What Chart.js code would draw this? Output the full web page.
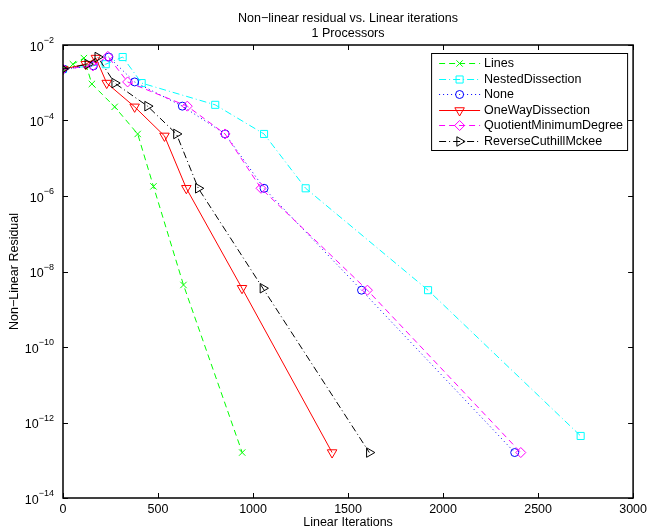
<!DOCTYPE html>
<html>
<head>
<meta charset="utf-8">
<title>Non-linear residual vs. Linear iterations</title>
<script src="https://cdn.jsdelivr.net/npm/chart.js@4/dist/chart.umd.min.js"></script>
<style>
  html, body { margin: 0; padding: 0; background: #fff; }
  canvas { display: block; }
</style>
</head>
<body>
<canvas id="residual-chart" width="651" height="529"></canvas>
<script>
// 시리즈 데이터 (선형 반복 횟수, 비선형 잔차)
const seriesNames = ['Lines', 'NestedDissection', 'None', 'OneWayDissection', 'QuotientMinimumDegree', 'ReverseCuthillMckee'];

const linesIters = [0, 52, 110, 152, 272, 393, 476, 634, 943];
const linesResid = [2.3e-3, 3.1e-3, 4.5e-3, 9.3e-4, 2.3e-4, 4.4e-5, 1.8e-6, 4.4e-9, 1.6e-13];

const nestedIters = [0, 225, 314, 414, 801, 1058, 1277, 1921, 2724];
const nestedResid = [2.3e-3, 3.1e-3, 4.8e-3, 9.8e-4, 2.6e-4, 4.4e-5, 1.6e-6, 3.2e-9, 4.4e-13];

const noneIters = [0, 160, 241, 377, 628, 853, 1058, 1571, 2377];
const noneResid = [2.3e-3, 2.8e-3, 4.8e-3, 1.05e-3, 2.4e-4, 4.4e-5, 1.6e-6, 3.2e-9, 1.6e-13];

const oneWayIters = [0, 120, 173, 230, 377, 534, 649, 942, 1416];
const oneWayResid = [2.3e-3, 3.1e-3, 4.5e-3, 9.8e-4, 2.3e-4, 3.9e-5, 1.6e-6, 3.6e-9, 1.6e-13];

const qmdIters = [0, 157, 236, 340, 654, 853, 1042, 1602, 2409];
const qmdResid = [2.3e-3, 2.8e-3, 5.0e-3, 1.05e-3, 2.4e-4, 4.4e-5, 1.6e-6, 3.2e-9, 1.6e-13];

const rcmIters = [0, 131, 183, 272, 445, 597, 712, 1052, 1612];
const rcmResid = [2.3e-3, 3.1e-3, 4.8e-3, 9.8e-4, 2.4e-4, 4.4e-5, 1.6e-6, 3.6e-9, 1.6e-13];

// 축 눈금
const xTickStep = 500;
const yTickValues = [1e-14, 1e-12, 1e-10, 1e-8, 1e-6, 1e-4, 1e-2];
const yTickBase = '10';
const yTickExponents = ['−14', '−12', '−10', '−8', '−6', '−4', '−2'];

const FONT = "'Liberation Sans', Arial, Helvetica, sans-serif";
const FONT_SIZE = 12.5;
const SUP_SIZE = 9;

Chart.defaults.font.family = FONT;
Chart.defaults.font.size = FONT_SIZE;
Chart.defaults.color = '#000';

function toPoints(xs, ys) {
  return xs.map((x, i) => ({ x: x, y: ys[i] }));
}

// MATLAB 스타일: 선 종류 + 빈 마커
function makeDataset(label, xs, ys, color, dash, pointStyle, radius, rotation) {
  return {
    label: label,
    data: toPoints(xs, ys),
    borderColor: color,
    borderWidth: 1,
    borderDash: dash,
    pointStyle: pointStyle,
    pointRadius: radius,
    pointRotation: rotation || 0,
    pointBorderColor: color,
    pointBackgroundColor: 'rgba(0,0,0,0)',
    pointBorderWidth: 1,
    tension: 0,
    fill: false
  };
}

const datasets = [
  makeDataset(seriesNames[0], linesIters, linesResid, '#00ff00', [6, 4], 'crossRot', 4.5),
  makeDataset(seriesNames[1], nestedIters, nestedResid, '#00ffff', [7, 3, 1, 3], 'rect', 5),
  makeDataset(seriesNames[2], noneIters, noneResid, '#0000ff', [1, 3], 'circle', 4),
  makeDataset(seriesNames[3], oneWayIters, oneWayResid, '#ff0000', [], 'triangle', 5.5, 180),
  makeDataset(seriesNames[4], qmdIters, qmdResid, '#ff00ff', [6, 4], 'rectRot', 5),
  makeDataset(seriesNames[5], rcmIters, rcmResid, '#000000', [7, 3, 1, 3], 'triangle', 5.5, 90)
];
// 나중 시리즈가 위에 그려지도록
datasets.forEach((d, i) => { d.order = datasets.length - i; });

// 상자 테두리 + 안쪽 눈금 (4면)
const boxTicks = {
  id: 'boxTicks',
  afterDatasetsDraw(chart) {
    const { ctx, chartArea: a, scales } = chart;
    const len = 5;
    ctx.save();
    ctx.strokeStyle = '#000';
    ctx.lineWidth = 1;
    ctx.beginPath();
    scales.x.ticks.forEach(t => {
      const px = Math.round(scales.x.getPixelForValue(t.value)) + 0.5;
      ctx.moveTo(px, a.bottom); ctx.lineTo(px, a.bottom - len);
      ctx.moveTo(px, a.top); ctx.lineTo(px, a.top + len);
    });
    scales.y.ticks.forEach(t => {
      const py = Math.round(scales.y.getPixelForValue(t.value)) + 0.5;
      ctx.moveTo(a.left, py); ctx.lineTo(a.left + len, py);
      ctx.moveTo(a.right, py); ctx.lineTo(a.right - len, py);
    });
    ctx.stroke();
    ctx.lineWidth = 1.5;
    ctx.strokeRect(a.left, a.top, a.right - a.left, a.bottom - a.top);
    ctx.restore();
  }
};

// y축 라벨: 10 + 위첨자 지수
const powerLabels = {
  id: 'powerLabels',
  afterDraw(chart) {
    const { ctx, chartArea: a, scales } = chart;
    const rightEdge = a.left - 9;
    ctx.save();
    ctx.fillStyle = '#000';
    ctx.textBaseline = 'alphabetic';
    ctx.textAlign = 'left';
    scales.y.ticks.forEach((t, i) => {
      const py = scales.y.getPixelForValue(t.value);
      const exp = yTickExponents[i];
      ctx.font = SUP_SIZE + 'px ' + FONT;
      const expW = ctx.measureText(exp).width;
      ctx.font = FONT_SIZE + 'px ' + FONT;
      const baseW = ctx.measureText(yTickBase).width;
      const x0 = rightEdge - expW - baseW;
      ctx.fillText(yTickBase, x0, py + 5.5);
      ctx.font = SUP_SIZE + 'px ' + FONT;
      ctx.fillText(exp, x0 + baseW, py - 2);
    });
    ctx.restore();
  }
};

// 범례: 선 샘플 가운데에 마커
const boxLegend = {
  id: 'boxLegend',
  afterDraw(chart) {
    const { ctx, chartArea: a } = chart;
    const sets = chart.data.datasets;
    ctx.save();
    ctx.font = FONT_SIZE + 'px ' + FONT;
    const textW = Math.max(...sets.map(d => ctx.measureText(d.label).width));
    const rowH = 15.6, lineLen = 41, padL = 8, gap = 4;
    const w = Math.round(padL + lineLen + gap + textW + 4);
    const h = Math.round(rowH * sets.length + 3);
    const right = a.right - 6, top = a.top + 8;
    const left = right - w;

    ctx.fillStyle = '#fff';
    ctx.fillRect(left, top, w, h);
    ctx.strokeStyle = '#000';
    ctx.lineWidth = 1;
    ctx.strokeRect(left + 0.5, top + 0.5, w, h);

    sets.forEach((d, i) => {
      const cy = Math.round(top + 10 + i * rowH) + 0.5;
      const x0 = left + padL;
      ctx.strokeStyle = d.borderColor;
      ctx.lineWidth = 1;
      ctx.setLineDash(d.borderDash || []);
      ctx.beginPath();
      ctx.moveTo(x0, cy);
      ctx.lineTo(x0 + lineLen, cy);
      ctx.stroke();
      ctx.setLineDash([]);
      ctx.fillStyle = 'rgba(0,0,0,0)';
      if (Chart.helpers && Chart.helpers.drawPoint) {
        Chart.helpers.drawPoint(ctx, {
          pointStyle: d.pointStyle,
          rotation: d.pointRotation,
          radius: d.pointRadius,
          borderWidth: 1
        }, x0 + lineLen / 2, cy);
      }
      ctx.fillStyle = '#000';
      ctx.textBaseline = 'middle';
      ctx.textAlign = 'left';
      ctx.fillText(d.label, x0 + lineLen + gap, cy);
    });
    ctx.restore();
  }
};

new Chart(document.getElementById('residual-chart'), {
  type: 'line',
  data: { datasets: datasets },
  plugins: [boxTicks, powerLabels, boxLegend],
  options: {
    responsive: false,
    animation: false,
    layout: { padding: { left: 0, right: 15, top: 0, bottom: 0 } },
    plugins: {
      legend: { display: false },
      tooltip: { enabled: false },
      title: {
        display: true,
        fullSize: false,
        text: ['Non−linear residual vs. Linear iterations', '1 Processors'],
        padding: { top: 11, bottom: 4 },
        font: { size: FONT_SIZE, weight: 'normal', lineHeight: 1.2 },
        color: '#000'
      }
    },
    scales: {
      x: {
        type: 'linear',
        min: 0,
        max: 3000,
        grid: { display: false, drawTicks: false },
        border: { display: false },
        ticks: {
          stepSize: xTickStep,
          padding: 4,
          autoSkip: false,
          maxRotation: 0,
          callback: v => String(v)
        },
        title: {
          display: true,
          text: 'Linear Iterations',
          padding: { top: 0, bottom: -1 }
        },
        afterFit: s => { s.height = 31; }
      },
      y: {
        type: 'logarithmic',
        min: 1e-14,
        max: 1e-2,
        grid: { display: false, drawTicks: false },
        border: { display: false },
        afterBuildTicks: s => { s.ticks = yTickValues.map(v => ({ value: v })); },
        ticks: { display: false },
        title: {
          display: true,
          text: 'Non−Linear Residual',
          padding: { top: 7, bottom: 0 }
        },
        afterFit: s => { s.width = 63; }
      }
    }
  }
});
</script>
</body>
</html>
